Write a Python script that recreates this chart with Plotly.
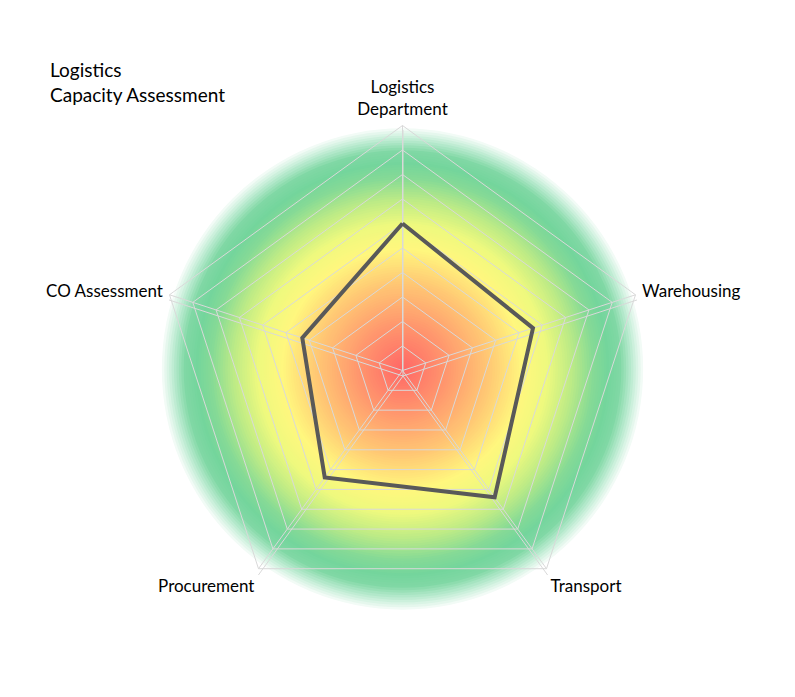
import plotly.graph_objects as go

# ---------------- data ----------------
categories = ["Logistics Department", "Warehousing", "Transport", "Procurement", "CO Assessment"]
tick_labels = ["Logistics<br>Department", "Warehousing", "Transport", "Procurement", "CO Assessment"]
scores = [6.0, 5.6, 6.4, 5.4, 4.3]
title_lines = ["Logistics", "Capacity Assessment"]

# background radial gradient (fraction of radius -> colour)
gradient_stops = [
    [0.00, "#FF6666"],
    [0.20, "#FF9A6E"],
    [0.36, "#FFC874"],
    [0.50, "#FFF77E"],
    [0.60, "#EEF97E"],
    [0.70, "#BDEB86"],
    [0.79, "#86DA96"],
    [0.85, "#74D59C"],
    [0.90, "#80D8A5"],
    [0.95, "#BFECD3"],
    [1.00, "#FFFFFF"],
]
gradient_levels = [i / 100 for i in range(100, 0, -1)]

# ---------------- layout helpers ----------------
W, H = 795, 697


def dom(cx, cy, R):
    return dict(x=[(cx - R) / W, (cx + R) / W], y=[(H - cy - R) / H, (H - cy + R) / H])


GRID = "#D9D9D9"
FONT = "Lato"

fig = go.Figure()

# gradient background (circular polar subplot)
n = len(gradient_levels)
fig.add_trace(go.Barpolar(
    r=gradient_levels, theta=[0] * n, width=[360] * n,
    marker=dict(color=gradient_levels, colorscale=gradient_stops, cmin=0, cmax=1,
                line=dict(width=0)),
    subplot="polar", hoverinfo="skip", showlegend=False,
))

# secondary (offset) spokes
fig.add_trace(go.Scatterpolar(
    r=[0] * len(categories), theta=categories, mode="lines", opacity=0,
    subplot="polar2", hoverinfo="skip", showlegend=False,
))

# data
fig.add_trace(go.Scatterpolar(
    r=scores + [scores[0]], theta=categories + [categories[0]],
    mode="lines", line=dict(color="#595959", width=4),
    subplot="polar3", showlegend=False, hoverinfo="skip",
))

fig.update_layout(
    width=W, height=H, margin=dict(l=0, r=0, t=0, b=0),
    paper_bgcolor="white", plot_bgcolor="white",
    template="none", showlegend=False,
    font=dict(family=FONT, color="black"),
    polar=dict(
        domain=dom(402.5, 369, 255), bgcolor="rgba(0,0,0,0)", barmode="overlay",
        radialaxis=dict(visible=False, range=[0, 1.049]),
        angularaxis=dict(visible=False),
    ),
    polar2=dict(
        domain=dom(403, 376, 246), bgcolor="rgba(0,0,0,0)", gridshape="linear",
        radialaxis=dict(visible=False, range=[0, 10]),
        angularaxis=dict(type="category", categoryarray=categories, rotation=90,
                         direction="clockwise", showgrid=True, gridcolor=GRID, gridwidth=1,
                         showline=False, showticklabels=False, ticks=""),
    ),
    polar3=dict(
        domain=dom(402.5, 370.5, 245), bgcolor="rgba(0,0,0,0)", gridshape="linear",
        radialaxis=dict(range=[0, 10], dtick=1, showticklabels=False, ticks="",
                        showline=False, gridcolor=GRID, gridwidth=1),
        angularaxis=dict(type="category", categoryarray=categories, rotation=90,
                         direction="clockwise", showgrid=True, gridcolor=GRID, gridwidth=1,
                         showline=True, linecolor=GRID, linewidth=1,
                         ticks="outside", ticklen=3, tickcolor="rgba(0,0,0,0)",
                         tickmode="array", tickvals=categories, ticktext=tick_labels,
                         tickfont=dict(family=FONT, size=17, color="black")),
    ),
    annotations=[dict(
        text="<br>".join(title_lines), xref="paper", yref="paper",
        x=48 / W, y=(H - 56) / H, xanchor="left", yanchor="top", align="left",
        showarrow=False, font=dict(family=FONT, size=19, color="black"),
    )],
)

fig.write_html("out.html")
